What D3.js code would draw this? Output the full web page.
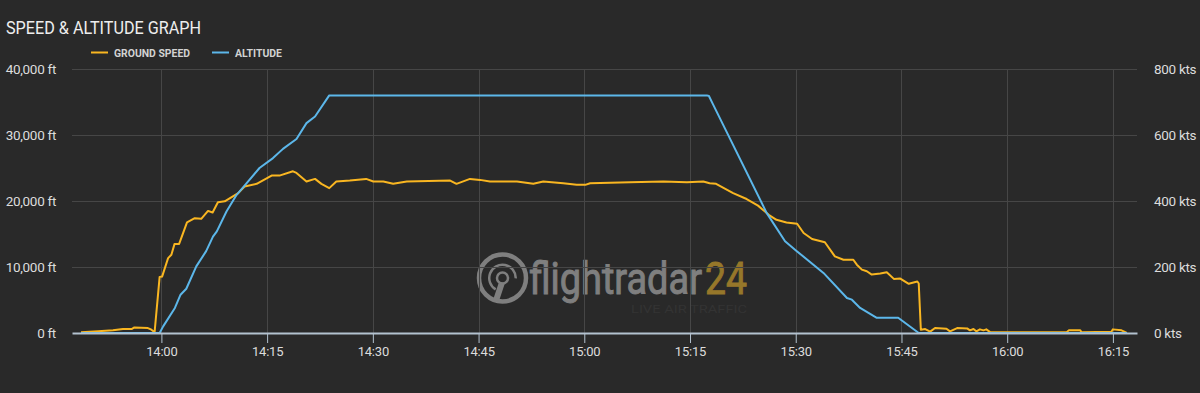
<!DOCTYPE html>
<html>
<head>
<meta charset="utf-8">
<script src="https://cdn.jsdelivr.net/npm/d3@7"></script>
<style>
  body { margin: 0; background: #292929; }
  svg { display: block; }
  .tick text { font-family: Roboto, sans-serif; }
</style>
</head>
<body>
<div id="graph"></div>
<script>
// speed & altitude graph, flightradar24 style

// altitude samples (time, feet)
const altTimes = ["13:48:36","13:59:45","14:00:15","14:01:55","14:02:43","14:03:32","14:04:57","14:06:21","14:07:19","14:07:52",
	"14:09:14","14:10:39","14:12:06","14:13:55","14:15:50","14:17:15","14:19:10","14:20:35","14:21:48","14:23:49",
	"15:17:23","15:17:41","15:18:17","15:25:52","15:28:29","15:30:09","15:33:56","15:37:16","15:37:58","15:39:08",
	"15:41:30","15:44:32","15:47:27","16:17:01"];
const altValues = [0,0,1000,3800,5800,6700,10100,12400,14600,15400,
	18400,20900,22700,25000,26500,27900,29400,31800,32800,36000,
	36000,35900,34600,18200,13900,12400,9100,5300,5050,3800,
	2300,2300,0,0];

// ground speed samples (time, knots)
const speedTimes = ["13:48:36","13:51:01","13:53:08","13:54:33","13:55:46","13:56:10","13:58:05","13:58:35","13:59:02","13:59:45",
	"14:00:06","14:00:57","14:01:25","14:01:52","14:02:31","14:03:38","14:04:44","14:05:39","14:06:37","14:07:16",
	"14:08:01","14:08:59","14:10:54","14:11:48","14:13:31","14:15:38","14:16:45","14:18:40","14:19:10","14:20:35",
	"14:21:48","14:22:42","14:23:49","14:24:49","14:26:44","14:29:03","14:30:04","14:31:29","14:32:53","14:34:49",
	"14:40:58","14:41:52","14:43:47","14:45:12","14:46:37","14:50:27","14:52:46","14:54:11","14:57:01","14:58:55",
	"15:00:08","15:00:50","15:06:29","15:11:14","15:14:34","15:16:53","15:17:47","15:18:42","15:21:07","15:23:02",
	"15:24:39","15:26:10","15:27:16","15:28:41","15:30:12","15:31:07","15:32:19","15:34:08","15:35:33","15:36:46",
	"15:38:10","15:38:40","15:39:23","15:40:05","15:40:47","15:42:00","15:42:55","15:43:55","15:44:50","15:46:02",
	"15:47:15","15:47:27","15:47:45","15:48:22","15:49:04","15:49:46","15:51:23","15:51:53","15:52:54","15:54:19",
	"15:54:43","15:55:13","15:55:37","15:56:08","15:56:38","15:57:02","15:57:38","16:08:26","16:08:44","16:10:22",
	"16:10:34","16:14:47","16:15:00","16:16:13","16:16:55"];
const speedValues = [2,5,8,12,12,17,15,10,2,170,
	171,227,237,270,270,335,348,346,370,365,
	396,399,424,444,452,477,477,490,485,459,
	467,452,439,459,462,467,459,459,452,459,
	462,452,467,464,459,459,452,459,454,449,
	449,454,457,459,457,459,454,452,424,406,
	386,358,343,335,331,303,285,275,232,222,
	222,207,192,187,177,180,184,164,165,149,
	156,150,10,12,4,15,13,5,15,14,
	8,12,5,11,8,11,2,2,8,8,
	2,4,11,8,1];

// axis ticks
const altTicks = [0, 10000, 20000, 30000, 40000];
const speedTicks = [0, 200, 400, 600, 800];
const timeTicks = ["14:00","14:15","14:30","14:45","15:00","15:15","15:30","15:45","16:00","16:15"];
const timeExtent = ["13:47:19","16:18:25"];

// colours
const colorSpeed = "#f9b621";
const colorAlt = "#5cb7ea";
const colorGrid = "#464646";
const colorText = "#dcdcdc";
const colorAxis = "#b3c2cf";
const colorMark = "#7f7f7f";
const fontFamily = "Roboto, sans-serif";

const w = 1200, h = 393;
const margin = {top: 69, right: 63, bottom: 60, left: 72};

const parseTime = d3.timeParse("%H:%M:%S");

const altData = altTimes.map((t, i) => ({time: parseTime(t), value: altValues[i]}));
const speedData = speedTimes.map((t, i) => ({time: parseTime(t), value: speedValues[i]}));
const tickDates = timeTicks.map(t => parseTime(t + ":00"));

// scales
const x = d3.scaleTime()
	.domain(timeExtent.map(parseTime))
	.range([margin.left, w - margin.right]);
const yAlt = d3.scaleLinear().domain([0, 40000]).range([h - margin.bottom, margin.top]);
const ySpeed = d3.scaleLinear().domain([0, 800]).range([h - margin.bottom, margin.top]);

const svg = d3.select("#graph")
	.append("svg")
	.attr("width", w)
	.attr("height", h);

svg.append("rect").attr("width", w).attr("height", h).attr("fill", "#292929");

// title
svg.append("text")
	.attr("x", 6).attr("y", 34)
	.attr("textLength", 195).attr("lengthAdjust", "spacingAndGlyphs")
	.style("font-family", fontFamily).style("font-size", "18px")
	.style("fill", "#eeeeee")
	.text("SPEED & ALTITUDE GRAPH");

// legend
const legend = [
	{label: "GROUND SPEED", color: colorSpeed, x: 91, len: 76},
	{label: "ALTITUDE", color: colorAlt, x: 212, len: 47}
];
legend.forEach(l => {
	svg.append("line")
		.attr("x1", l.x).attr("x2", l.x + 17)
		.attr("y1", 52.5).attr("y2", 52.5)
		.attr("stroke", l.color).attr("stroke-width", 2);
	svg.append("text")
		.attr("x", l.x + 23).attr("y", 56.5)
		.attr("textLength", l.len).attr("lengthAdjust", "spacingAndGlyphs")
		.style("font-family", fontFamily).style("font-size", "11.5px").style("font-weight", "bold")
		.style("fill", "#d2d2d2")
		.text(l.label);
});

// watermark
const wm = svg.append("g");
wm.append("circle").attr("cx", 502.5).attr("cy", 278).attr("r", 23.5)
	.attr("fill", "none").attr("stroke", colorMark).attr("stroke-width", 4.5);
wm.append("path")
	.attr("d", d3.arc()({innerRadius: 12, outerRadius: 14.5, startAngle: -2.6, endAngle: 1.6}))
	.attr("transform", "translate(502.5,278)").attr("fill", colorMark);
wm.append("circle").attr("cx", 502.5).attr("cy", 278).attr("r", 5.5)
	.attr("fill", "none").attr("stroke", colorMark).attr("stroke-width", 2.5);
wm.append("path")
	.attr("d", "M499,282 L493,300 L499,301 L505,283 Z").attr("fill", colorMark);

const brand = wm.append("text")
	.attr("y", 294)
	.style("font-family", fontFamily).style("font-size", "44px")
	.style("stroke-width", 1);
brand.append("tspan")
	.attr("x", 529)
	.attr("textLength", 173).attr("lengthAdjust", "spacingAndGlyphs")
	.style("fill", colorMark).style("stroke", colorMark)
	.text("flightradar");
brand.append("tspan")
	.attr("x", 705)
	.attr("textLength", 42).attr("lengthAdjust", "spacingAndGlyphs")
	.style("fill", "#96772a").style("stroke", "#96772a")
	.text("24");

wm.append("text")
	.attr("x", 631).attr("y", 313)
	.attr("textLength", 116).attr("lengthAdjust", "spacingAndGlyphs")
	.style("font-family", fontFamily).style("font-size", "10.5px")
	.style("fill", "#333333")
	.text("LIVE AIR TRAFFIC");

// grid
svg.append("g")
	.selectAll("line")
	.data(altTicks.slice(1))
	.join("line")
		.attr("x1", margin.left).attr("x2", w - margin.right)
		.attr("y1", d => Math.round(yAlt(d)) + 0.5).attr("y2", d => Math.round(yAlt(d)) + 0.5)
		.attr("stroke", colorGrid).attr("stroke-width", 1);

svg.append("g")
	.selectAll("line")
	.data(tickDates)
	.join("line")
		.attr("x1", d => Math.round(x(d)) + 0.5).attr("x2", d => Math.round(x(d)) + 0.5)
		.attr("y1", margin.top).attr("y2", h - margin.bottom)
		.attr("stroke", colorGrid).attr("stroke-width", 1);

// lines
const lineAlt = d3.line().x(d => x(d.time)).y(d => yAlt(d.value));
const lineSpeed = d3.line().x(d => x(d.time)).y(d => ySpeed(d.value));

svg.append("path")
	.datum(speedData)
	.attr("d", lineSpeed)
	.attr("fill", "none").attr("stroke", colorSpeed).attr("stroke-width", 2)
	.attr("stroke-linejoin", "round");

svg.append("path")
	.datum(altData)
	.attr("d", lineAlt)
	.attr("fill", "none").attr("stroke", colorAlt).attr("stroke-width", 2)
	.attr("stroke-linejoin", "round");

// axes
svg.append("g")
	.attr("transform", `translate(0,${h - margin.bottom})`)
	.call(d3.axisBottom(x).tickValues(tickDates).tickFormat(d3.timeFormat("%H:%M")).tickSize(10).tickSizeOuter(0).tickPadding(4))
	.call(g => g.select(".domain").attr("stroke", colorAxis).attr("stroke-width", 2))
	.call(g => g.selectAll(".tick line").attr("stroke", colorAxis))
	.call(g => g.selectAll(".tick text").style("fill", colorText).style("font-size", "13px").style("letter-spacing", "-0.2px"));

svg.append("g")
	.attr("transform", `translate(56,0)`)
	.call(d3.axisLeft(yAlt).tickValues(altTicks).tickFormat(d => d3.format(",")(d) + " ft").tickSize(0).tickPadding(0))
	.call(g => g.select(".domain").remove())
	.call(g => g.selectAll(".tick text").style("fill", colorText).style("font-size", "13.5px").style("letter-spacing", "-0.3px"));

svg.append("g")
	.attr("transform", `translate(1154,0)`)
	.call(d3.axisRight(ySpeed).tickValues(speedTicks).tickFormat(d => d + " kts").tickSize(0).tickPadding(0))
	.call(g => g.select(".domain").remove())
	.call(g => g.selectAll(".tick text").style("fill", colorText).style("font-size", "13.5px").style("letter-spacing", "-0.3px"));
</script>
</body>
</html>
